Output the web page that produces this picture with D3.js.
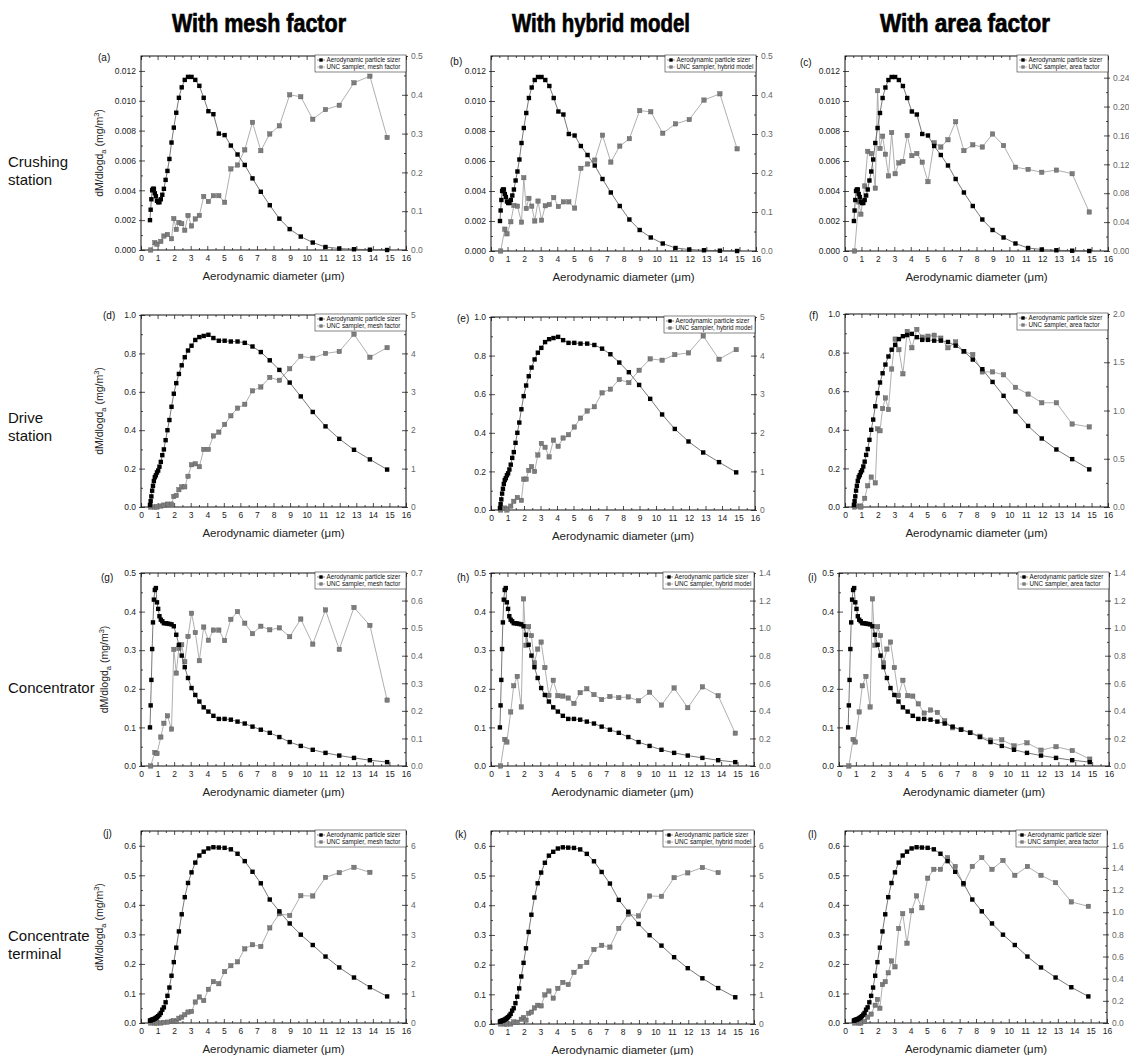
<!DOCTYPE html>
<html>
<head>
<meta charset="utf-8">
<script src="https://cdn.jsdelivr.net/npm/d3@7"></script>
<style>
  body { margin: 0; background: #fff; }
  svg { display: block; }
  text { font-family: "Liberation Sans", Arial, sans-serif; }
</style>
</head>
<body>
<div id="chart"></div>
<script>
// channel diameters (um)
var apsDiam = [0.542,0.583,0.626,0.673,0.723,0.777,0.835,0.898,0.965,1.037,1.114,1.197,1.286,1.382,1.486,1.596,1.715,1.843,1.981,2.129,2.288,2.458,2.642,2.839,3.051,3.278,3.523,3.786,4.068,4.371,4.698,5.048,5.425,5.829,6.264,6.732,7.234,7.774,8.354,8.977,9.647,10.37,11.14,11.97,12.86,13.82,14.86];
var uncDiam = [0.583,0.835,0.965,1.197,1.382,1.596,1.843,1.981,2.129,2.288,2.458,2.642,2.839,3.051,3.278,3.523,3.786,4.068,4.371,4.698,5.048,5.425,5.829,6.264,6.732,7.234,7.774,8.354,8.977,9.647,10.37,11.14,11.97,12.86,13.82,14.86];

// aerodynamic particle sizer (left axis, mg/m3)
var apsCrushing = [0.0020,0.0027,0.0034,0.0040,0.0041,0.0041,0.0038,0.0036,0.0033,0.0032,0.0032,0.0034,0.0037,0.0041,0.0047,0.0053,0.0061,0.0072,0.0082,0.0092,0.0102,0.0109,0.0114,0.0116,0.0116,0.0114,0.0110,0.0102,0.0093,0.0091,0.0078,0.0077,0.0070,0.0064,0.0057,0.0048,0.0039,0.0030,0.0021,0.0014,0.0009,0.0005,0.0002,0.0001,0.00005,0.00002,0.0000];
var apsDrive = [0.01,0.03,0.055,0.085,0.11,0.135,0.155,0.165,0.18,0.19,0.21,0.235,0.27,0.30,0.348,0.40,0.453,0.522,0.59,0.645,0.693,0.738,0.78,0.815,0.84,0.87,0.885,0.891,0.897,0.88,0.866,0.866,0.862,0.862,0.855,0.836,0.807,0.764,0.714,0.648,0.576,0.495,0.42,0.355,0.298,0.248,0.195];
var apsConcentrator = [0.10,0.157,0.223,0.303,0.372,0.431,0.456,0.461,0.424,0.407,0.388,0.379,0.375,0.370,0.370,0.369,0.368,0.367,0.362,0.34,0.314,0.286,0.256,0.228,0.202,0.184,0.167,0.152,0.141,0.130,0.122,0.122,0.120,0.115,0.110,0.102,0.094,0.086,0.075,0.062,0.052,0.042,0.034,0.027,0.021,0.015,0.010];
var apsTerminal = [0.008,0.009,0.010,0.011,0.012,0.013,0.015,0.017,0.020,0.023,0.028,0.034,0.045,0.053,0.07,0.092,0.12,0.16,0.206,0.255,0.31,0.368,0.426,0.474,0.51,0.543,0.567,0.58,0.591,0.595,0.594,0.593,0.588,0.573,0.548,0.512,0.473,0.418,0.378,0.337,0.299,0.264,0.225,0.188,0.154,0.121,0.09];

// UNC sampler (right axis, mg/m3)
var uncCrushingMesh = [0,0.019,0.015,0.022,0.036,0.040,0.029,0.081,0.053,0.071,0.068,0.051,0.089,0.062,0.080,0.089,0.138,0.125,0.140,0.140,0.123,0.209,0.219,0.258,0.329,0.256,0.299,0.320,0.400,0.395,0.337,0.362,0.373,0.431,0.448,0.290];
var uncCrushingHybrid = [0,0.056,0.044,0.075,0.117,0.115,0.074,0.188,0.109,0.135,0.115,0.077,0.128,0.079,0.116,0.119,0.137,0.114,0.126,0.126,0.110,0.212,0.223,0.233,0.297,0.228,0.269,0.288,0.360,0.357,0.302,0.326,0.337,0.387,0.403,0.262];
var uncCrushingArea = [0,0.068,0.051,0.090,0.138,0.135,0.087,0.222,0.142,0.159,0.134,0.104,0.164,0.107,0.122,0.124,0.160,0.132,0.135,0.123,0.096,0.150,0.144,0.154,0.179,0.139,0.147,0.144,0.162,0.146,0.116,0.113,0.109,0.112,0.107,0.054];
var uncDriveMesh = [0,0,0,0.025,0.05,0.075,0.075,0.275,0.30,0.45,0.525,0.525,0.80,1.10,1.125,1.05,1.50,1.50,1.85,1.95,2.15,2.375,2.575,2.675,3.025,3.125,3.375,3.30,3.60,3.925,3.875,4.00,4.05,4.50,3.90,4.15];
var uncDriveHybrid = [0,0.05,0,0.10,0.225,0.325,0.25,0.80,0.80,1.025,1.125,1.00,1.425,1.725,1.625,1.375,1.81,1.65,1.865,1.95,2.15,2.38,2.565,2.675,3.035,3.13,3.38,3.30,3.62,3.915,3.88,4.025,4.07,4.51,3.905,4.155];
var uncDriveArea = [0,0.01,0,0.09,0.22,0.31,0.25,0.81,0.79,1.02,1.13,1.01,1.43,1.74,1.63,1.38,1.82,1.65,1.84,1.76,1.77,1.78,1.75,1.65,1.71,1.61,1.58,1.40,1.40,1.37,1.24,1.17,1.08,1.08,0.86,0.83];
var uncConcMesh = [0,0.049,0.045,0.105,0.155,0.182,0.134,0.423,0.337,0.427,0.44,0.378,0.47,0.554,0.484,0.382,0.504,0.456,0.493,0.493,0.455,0.532,0.56,0.518,0.48,0.507,0.494,0.501,0.469,0.533,0.442,0.566,0.423,0.575,0.51,0.239];
var uncConcHybrid = [0,0.193,0.174,0.392,0.582,0.65,0.428,1.212,0.876,1.011,0.946,0.748,0.848,0.899,0.714,0.512,0.622,0.51,0.507,0.493,0.454,0.532,0.56,0.518,0.482,0.504,0.496,0.501,0.473,0.535,0.442,0.566,0.423,0.574,0.51,0.238];
var uncConcArea = [0,0.193,0.174,0.392,0.582,0.65,0.428,1.212,0.876,1.011,0.946,0.748,0.848,0.899,0.714,0.512,0.622,0.51,0.507,0.451,0.384,0.406,0.389,0.328,0.277,0.266,0.244,0.216,0.188,0.19,0.146,0.168,0.115,0.14,0.112,0.05];
var uncTermMesh = [0,0,0,0,0.02,0.03,0.06,0.08,0.05,0.16,0.2,0.28,0.37,0.39,0.71,0.88,0.76,1.14,1.4,1.33,1.74,1.94,2.07,2.51,2.65,2.59,3.22,3.7,3.64,4.31,4.3,4.93,5.09,5.27,5.1];
var uncTermHybrid = [0,0,0,0,0.07,0.06,0.16,0.22,0.13,0.36,0.4,0.54,0.63,0.61,0.98,1.11,0.87,1.2,1.4,1.33,1.74,1.94,2.07,2.51,2.65,2.59,3.22,3.7,3.64,4.31,4.3,4.93,5.09,5.27,5.1];
var uncTermArea = [0,0,0,0.013,0.053,0.08,0.16,0.213,0.133,0.347,0.373,0.453,0.56,0.507,0.853,0.987,0.72,1.013,1.147,1.04,1.307,1.387,1.387,1.493,1.413,1.253,1.413,1.493,1.387,1.467,1.333,1.413,1.333,1.267,1.093,1.053];

var colTitles = ["With mesh factor", "With hybrid model", "With area factor"];
var rowTitles = [["Crushing", "station"], ["Drive", "station"], ["Concentrator"], ["Concentrate", "terminal"]];
var panelLetters = ["(a)","(b)","(c)","(d)","(e)","(f)","(g)","(h)","(i)","(j)","(k)","(l)"];
var legendUnc = ["UNC sampler, mesh factor", "UNC sampler, hybrid model", "UNC sampler, area factor"];

// axis ranges per row: [max, major step, format]
var leftAxes = [[0.013, 0.002, ".3f"], [1.0, 0.2, ".1f"], [0.5, 0.1, ".1f"], [0.65, 0.1, ".1f"]];
var rightAxes = [
  [0.5, 0.1, ".1f"], [0.5, 0.1, ".1f"], [0.27, 0.04, ".2f"],
  [5, 1, "d"], [5, 1, "d"], [2.0, 0.5, ".1f"],
  [0.7, 0.1, ".1f"], [1.4, 0.2, ".1f"], [1.4, 0.2, ".1f"],
  [6.5, 1, "d"], [6.5, 1, "d"], [1.733, 0.2, ".1f"]
];

var apsRows = [apsCrushing, apsDrive, apsConcentrator, apsTerminal];
var uncPanels = [uncCrushingMesh, uncCrushingHybrid, uncCrushingArea, uncDriveMesh, uncDriveHybrid, uncDriveArea,
                 uncConcMesh, uncConcHybrid, uncConcArea, uncTermMesh, uncTermHybrid, uncTermArea];

// layout
var frames = [[141,56,406,250],[491,56,756,251],[845,56,1108,251],
              [141,315,406,507],[491,317,755,510],[845,314,1108,507],
              [141,573,406,766],[491,573,754,766],[839,573,1109,766],
              [141,831,406,1023],[491,831,754,1024],[845,831,1107,1023]];
var letterPos = [[98,61],[450,65],[800,66],[103,319],[457,322],[809,319],[101,581],[457,581],[808,581],[103,837],[455,838],[808,838]];
var headX = [259, 601, 965], headW = [174, 178, 170];
var rowTitleY = [167, 423, 693, 941];
var yTitleX = [103, 103, 108, 103];

var svg = d3.select("#chart").append("svg")
  .attr("width", 1129)
  .attr("height", 1055);

svg.selectAll("text.head").data(colTitles).enter()
  .append("text")
  .attr("class", "head")
  .attr("x", (d, i) => headX[i])
  .attr("y", 32)
  .attr("text-anchor", "middle")
  .attr("textLength", (d, i) => headW[i])
  .attr("lengthAdjust", "spacingAndGlyphs")
  .attr("stroke", "#000")
  .attr("stroke-width", 0.7)
  .style("font-family", "'Liberation Sans Narrow','Arial Narrow','Liberation Sans',sans-serif")
  .style("font-weight", "bold")
  .style("font-size", "25px")
  .text(d => d);

rowTitles.forEach((lines, r) => {
  var t = svg.append("text").attr("x", 8).attr("y", rowTitleY[r]).style("font-size", "15px").attr("fill", "#111");
  lines.forEach((l, k) => t.append("tspan").attr("x", 8).attr("dy", k ? 18 : 0).text(l));
});

function drawPanel(p) {
  var row = Math.floor(p / 3), col = p % 3;
  var f = frames[p];
  var la = leftAxes[row], ra = rightAxes[p];
  var g = svg.append("g");

  var x = d3.scaleLinear().domain([0, 16]).range([f[0], f[2]]);
  var yL = d3.scaleLinear().domain([0, la[0]]).range([f[3], f[1]]);
  var yR = d3.scaleLinear().domain([0, ra[0]]).range([f[3], f[1]]);

  var lMajor = d3.range(0, la[0] + 1e-9, la[1]);
  var lMinor = d3.range(la[1] / 2, la[0] + 1e-9, la[1]);
  var rMajor = d3.range(0, ra[0] + 1e-9, ra[1]);
  var rMinor = d3.range(ra[1] / 2, ra[0] + 1e-9, ra[1]);

  //Bottom axis
  g.append("g").attr("transform", `translate(0,${f[3]})`)
    .call(d3.axisBottom(x).tickValues(d3.range(0, 17)).tickSize(-4).tickPadding(5).tickFormat(d3.format("d")));
  g.append("g").attr("transform", `translate(0,${f[3]})`)
    .call(d3.axisBottom(x).tickValues(d3.range(0.5, 16, 1)).tickSize(-2).tickFormat(""));
  //Top axis
  g.append("g").attr("transform", `translate(0,${f[1]})`)
    .call(d3.axisTop(x).tickValues(d3.range(0, 17)).tickSize(-4).tickFormat(""));
  g.append("g").attr("transform", `translate(0,${f[1]})`)
    .call(d3.axisTop(x).tickValues(d3.range(0.5, 16, 1)).tickSize(-2).tickFormat(""));
  //Left axis
  g.append("g").attr("transform", `translate(${f[0]},0)`)
    .call(d3.axisLeft(yL).tickValues(lMajor).tickSizeInner(-4).tickSizeOuter(0).tickPadding(5).tickFormat(d3.format(la[2])));
  g.append("g").attr("transform", `translate(${f[0]},0)`)
    .call(d3.axisLeft(yL).tickValues(lMajor).tickSize(2).tickFormat(""));
  g.append("g").attr("transform", `translate(${f[0]},0)`)
    .call(d3.axisLeft(yL).tickValues(lMinor).tickSize(-2).tickFormat(""));
  //Right axis
  var rx = g.append("g").attr("transform", `translate(${f[2]},0)`)
    .call(d3.axisRight(yR).tickValues(rMajor).tickSizeInner(-4).tickSizeOuter(0).tickPadding(5).tickFormat(d3.format(ra[2])));
  g.append("g").attr("transform", `translate(${f[2]},0)`)
    .call(d3.axisRight(yR).tickValues(rMajor).tickSize(2).tickFormat(""));
  g.append("g").attr("transform", `translate(${f[2]},0)`)
    .call(d3.axisRight(yR).tickValues(rMinor).tickSize(-2).tickFormat(""));

  g.selectAll(".domain").remove();
  g.selectAll(".tick line").attr("stroke", "#222").attr("stroke-width", 0.8);
  g.selectAll(".tick text").style("font-size", "8.5px").style("font-family", "'Liberation Sans',Arial,sans-serif").attr("fill", "#222");
  rx.selectAll(".tick text").attr("fill", "#666");

  g.append("rect")
    .attr("x", f[0]).attr("y", f[1])
    .attr("width", f[2] - f[0]).attr("height", f[3] - f[1])
    .attr("fill", "none").attr("stroke", "#111").attr("stroke-width", 1);

  //Series
  var apsPts = apsDiam.map((d, i) => [d, apsRows[row][i]]);
  var uncPts = uncPanels[p].map((v, i) => [uncDiam[i], v]);

  var lineL = d3.line().x(d => x(d[0])).y(d => yL(d[1]));
  var lineR = d3.line().x(d => x(d[0])).y(d => yR(d[1]));
  var ms = 4.4;

  g.append("path").datum(uncPts).attr("d", lineR)
    .attr("fill", "none").attr("stroke", "#9a9a9a").attr("stroke-width", 0.8);
  g.selectAll(null).data(uncPts).enter().append("rect")
    .attr("x", d => x(d[0]) - ms / 2).attr("y", d => yR(d[1]) - ms / 2)
    .attr("width", ms).attr("height", ms)
    .attr("fill", "#7c7c7c").attr("stroke", "#5a5a5a").attr("stroke-width", 0.4);

  g.append("path").datum(apsPts).attr("d", lineL)
    .attr("fill", "none").attr("stroke", "#555").attr("stroke-width", 0.8);
  g.selectAll(null).data(apsPts).enter().append("rect")
    .attr("x", d => x(d[0]) - ms / 2).attr("y", d => yL(d[1]) - ms / 2)
    .attr("width", ms).attr("height", ms)
    .attr("fill", "#000");

  //Legend
  var lg = g.append("g").attr("transform", `translate(${f[2] - 91},${f[1] - 1})`);
  lg.append("rect").attr("width", 91).attr("height", 17)
    .attr("fill", "#fff").attr("stroke", "#333").attr("stroke-width", 0.6);
  var items = [["Aerodynamic particle sizer", "#000", "#555"], [legendUnc[col], "#7c7c7c", "#9a9a9a"]];
  items.forEach((it, k) => {
    var yy = 5 + k * 7;
    lg.append("line").attr("x1", 2).attr("x2", 10).attr("y1", yy).attr("y2", yy)
      .attr("stroke", it[2]).attr("stroke-width", 0.7);
    lg.append("rect").attr("x", 4.3).attr("y", yy - 1.7).attr("width", 3.4).attr("height", 3.4).attr("fill", it[1]);
    lg.append("text").attr("x", 11.5).attr("y", yy + 2.2)
      .style("font-size", "6.3px").attr("fill", "#111").text(it[0]);
  });

  //Axis titles
  g.append("text")
    .attr("x", (f[0] + f[2]) / 2).attr("y", f[3] + 30)
    .attr("text-anchor", "middle")
    .style("font-size", "11.5px").attr("fill", "#222")
    .text("Aerodynamic diameter (\u03bcm)");

  if (col === 0) {
    var yt = g.append("text")
      .attr("transform", `translate(${yTitleX[row]},${(f[1] + f[3]) / 2}) rotate(-90)`)
      .attr("text-anchor", "middle")
      .style("font-size", "10.5px").attr("fill", "#222");
    yt.append("tspan").text("dM/dlogd");
    yt.append("tspan").attr("dy", 3).style("font-size", "7.5px").text("a");
    yt.append("tspan").attr("dy", -3).text(" (mg/m");
    yt.append("tspan").attr("dy", -4).style("font-size", "7.5px").text("3");
    yt.append("tspan").attr("dy", 4).text(")");
  }

  g.append("text")
    .attr("x", letterPos[p][0]).attr("y", letterPos[p][1])
    .style("font-size", "10px").attr("fill", "#111")
    .text(panelLetters[p]);
}

d3.range(12).forEach(drawPanel);
</script>
</body>
</html>
